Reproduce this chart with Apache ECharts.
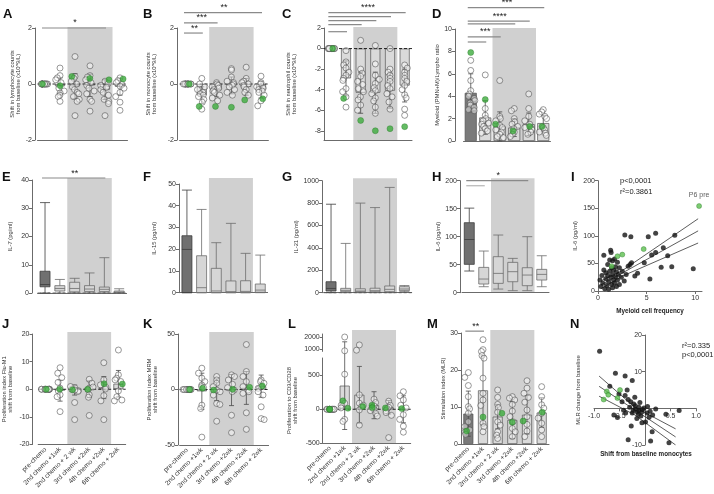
<!DOCTYPE html>
<html><head><meta charset="utf-8">
<script src="https://cdn.jsdelivr.net/npm/echarts@6/dist/echarts.min.js"></script>
<style>html,body{margin:0;padding:0;background:#fff}#c{width:714px;height:494px}</style>
</head><body><div id="c"></div>
<script>
const FONT = '"Liberation Sans", Arial, sans-serif';
const AX = '#6b6b6b', TXT = '#333', BAND = '#d0d0d0', LIGHT = '#dadada', DARK = '#7a7a7a', GREEN = '#3dab3d';

const timepoints = ['pre-chemo','2nd chemo +1wk','2nd chemo + 2 wk','3rd chemo +2wk','4th chemo +2wk','6th chemo + 2wk'];
const shaded = [2, 4];
const zeros = [0,0,0,0,0,0,0,0,0,0,0,0];

// A lymphocytes shift
const lymphPts = [zeros,
  [0.57,0.3,0.22,0.15,0.05,-0.15,-0.25,-0.32,-0.4,-0.45,-0.62],
  [0.98,0.27,0.2,0.1,0.0,-0.1,-0.2,-0.3,-0.35,-0.45,-0.55,-0.62,-1.13],
  [0.65,0.3,0.25,0.15,0.05,-0.05,-0.15,-0.25,-0.35,-0.55,-0.62,-0.97],
  [0.1,0.02,-0.05,-0.12,-0.2,-0.3,-0.4,-0.55,-0.62,-0.7,-1.13],
  [0.22,0.12,0.05,-0.02,-0.08,-0.15,-0.3,-0.45,-0.65,-0.94]];
const lymphGreen = [0,-0.06,0.27,0.2,0.15,0.18];
const lymphMean = [0,-0.08,-0.08,-0.05,-0.2,-0.1];
const lymphSD = [0,0.3,0.45,0.4,0.35,0.3];
// B monocytes shift
const monoPts = [zeros,
  [0.2,0.0,-0.1,-0.2,-0.3,-0.35,-0.4,-0.45,-0.55,-0.65,-0.9],
  [0.05,0.0,-0.05,-0.1,-0.15,-0.2,-0.25,-0.3,-0.4,-0.5,-0.6],
  [0.55,0.5,0.25,0.1,0.05,0.0,-0.05,-0.1,-0.2,-0.3,-0.4],
  [0.6,0.2,0.1,0.05,0.0,-0.05,-0.1,-0.2,-0.3,-0.4],
  [0.28,0.05,0.0,-0.1,-0.15,-0.2,-0.25,-0.3,-0.4,-0.6,-0.78]];
const monoGreen = [0,-0.8,-0.8,-0.83,-0.57,-0.53];
const monoMean = [0,-0.4,-0.2,-0.05,-0.1,-0.2];
const monoSD = [0,0.3,0.25,0.3,0.3,0.3];
// C neutrophils shift
const neutPts = [zeros,
  [-0.2,-1.3,-1.6,-1.9,-2.3,-2.6,-2.9,-3.1,-3.9,-4.2,-4.7,-5.7],
  [0.8,-2.0,-2.4,-2.7,-3.2,-3.5,-3.9,-4.2,-4.7,-5.0,-5.5,-6.0],
  [0.3,-1.5,-2.6,-3.0,-3.4,-3.8,-4.1,-4.4,-4.8,-5.1,-5.7,-6.3],
  [0.0,-2.0,-2.3,-2.6,-2.9,-3.2,-3.6,-3.9,-4.4,-4.7,-5.2,-5.9],
  [-1.6,-1.9,-2.3,-2.6,-2.9,-3.2,-3.6,-4.0,-4.5,-4.8,-5.9,-6.5]];
const neutGreen = [0,-4.85,-7.0,-8.0,-7.8,-7.6];
const neutMean = [0,-2.9,-4.3,-4.3,-4.1,-3.6];
const neutSD = [0,1.7,2.0,2.0,1.7,1.6];
// D myeloid/lympho ratio
const ratioPts = [
  [7.2,6.3,5.4,4.5,4.2,4.0,3.8,3.6,3.4,3.2,3.0,2.8,2.7],
  [5.9,2.9,2.3,2.0,1.8,1.6,1.5,1.3,1.1,0.9,0.7],
  [5.4,2.2,2.0,1.8,1.4,1.2,1.0,0.8,0.6,0.4,0.3],
  [2.9,2.7,2.0,1.7,1.5,1.3,1.1,0.8,0.6,0.4],
  [4.2,2.9,2.2,1.8,1.5,1.2,1.1,1.0,0.8,0.6],
  [2.8,2.6,2.4,2.2,2.0,1.2,1.0,0.8,0.7,0.5]];
const ratioGreen = [7.9,3.7,1.5,0.9,1.3,1.3];
const ratioMean = [4.3,2.1,1.3,1.2,1.5,1.6];
const ratioSD = [1.7,1.5,1.3,0.8,1.0,0.7];
// E-H cytokine boxes [min, Q1, median, Q3, max]
const il7Box = [[0,2.2,3.0,7.7,32],[0,0.7,1.6,2.6,4.8],[0,0.4,1.6,3.8,5.2],[0,0.5,1.4,2.6,7.1],[0,0.5,1.3,2.1,12.5],[0,0.1,0.3,0.7,1.5]];
const il15Box = [[0,0,19.9,26.2,47.2],[0,0,2.3,17,38.3],[0,0,0.8,11.2,23],[0,0,0.5,5.4,31.9],[0,0,0.6,5.5,18.1],[0,0.2,1.2,4,17.3]];
const il21Box = [[0,15,38,98,790],[0,9,21,39,440],[0,8,15,35,800],[0,8,18,40,760],[0,9,30,60,940],[9,18,33,54,64]];
const il6Box = [[38.7,50.6,95,125,151],[10.7,15.5,24.4,45.2,74.4],[6.5,16.7,34.5,64.3,103],[3.6,19.6,37.5,54.2,61.3],[3.6,12.5,31.5,44.6,100],[10.7,22.6,32.7,41.7,66]];
// I IL-6 vs myeloid frequency
const iMyeloid = [2.76,3.38,5.17,5.93,7.9,6.72,5.52,5.93,4.76,3.45,7.17,4.07,3.79,5.34,7.59,9.8,0.2,0.3,0.4,0.5,0.6,0.6,0.7,0.8,0.8,0.9,1.0,1.0,1.1,1.1,1.2,1.2,1.3,1.3,1.35,1.4,1.4,1.5,1.5,1.5,1.6,1.6,1.7,1.7,1.8,1.8,1.9,1.9,2.0,2.0,2.1,2.2,2.2,2.4,2.5,2.7,2.9,3.1,3.3,6.5];
const iIL6 = [101.5,98.5,98.5,104.5,101,78.5,65.3,70,51.4,51.4,64,32,27,21.8,44,40.5,20,8,28,14,65,38,4,22,33,10,48,28,17,3,56,36,74,25,70,12,42,55,30,6,20,38,58,14,26,44,8,35,20,52,30,12,42,25,36,18,30,45,48,43];
const iGreenX = [2.0,2.5,4.7,1.4,10.4];
const iGreenY = [63,66,76,45,154];
const iFitX = [0.3,10.3], iFitY = [11,109];
const iUpX = [0.3,2.5,10.3], iUpY = [18,37,131];
const iLoX = [0.3,2.5,10.3], iLoY = [4,27,87];
// J Flu-M1 shift
const fluPts = [zeros,
  [7.8,5.8,4.2,2.5,0.4,-0.6,-2.0,-2.7,-8.1],
  [0.6,0,-0.5,-0.8,-4.8,-11,1.0,-0.3],
  [3.6,2.2,0.4,-0.2,-2.0,-2.9,-9.5,0.8],
  [9.6,3.4,1.6,0.7,0.1,-2.3,-4.2,-11],
  [14.2,5.2,4.0,3.4,2.8,-0.6,-2.7,-3.9,-4.2]];
const fluGreen = [0,0,-0.2,0,2.0,1.9];
const fluMean = [0,-0.5,-0.3,0,0.6,2.0];
const fluSD = [0,3.8,1.8,3.0,4.0,4.8];
// K MRM shift
const mrmPts = [zeros,
  [19.2,14.7,10.2,7.1,4.1,2.6,1.7,-14.1,-17.1,-42.9],
  [11.7,8.6,5.6,2.6,-0.5,-2,-5,-12.6,-13.5,-28.6],
  [13.2,11.7,8.6,4.7,1.7,-0.5,-2,-23.2,-38.9],
  [40.5,16.2,11.7,7.1,2.6,-0.5,-2,-3.5,-21,-35.9],
  [8.6,7.1,5.6,2.6,1.1,-2,-5,-15.6,-26.2,-27.1]];
const mrmGreen = [0,1.1,-0.5,0.2,2.0,3.2];
const mrmMean = [0,-1.6,0,-0.5,1.4,3.0];
const mrmSD = [0,16.3,10,14,14.8,10];
// L CD3/CD28 shift (broken axis)
const cdPtsLow = [zeros,[520,90,60,20,-150,-180],[215,90,60,35,-10,-235],[150,100,50,20,0,-20,-60,-100],[120,60,30,10,-20,-50,-90,-420],[260,200,140,60,20,-80,-150,-250,-340]];
const cdPtsHigh = [[],[2000,850],[1340,900],[],[],[]];
const cdGreen = [[0,0],[125,15],[40],[60,25],[20],[10]];
const cdMean = [0,350,215,60,30,0];
const cdSD = [0,650,420,200,100,200];
// M MLR stimulation index
const mlrPts = [
  [19.3,18,15.8,12.8,10.1,9.5,8.3,6,4.7,3.8,3.3,2.6],
  [28.2,25.5,25.0,23.9,23.2,17.8,13.7,11.9,10.4,5.6,4.7,3.3],
  [14.6,12.6,10.7,9.8,8.6,6,5.1,3.3,2.4,1.5],
  [12.8,12.4,11.9,10.7,8.9,7.4,6,4.2,3.3,2],
  [17.1,15.1,13.7,12.6,11.3,9.2,7.4,5.3,3.5,2],
  [15.5,12.8,10.6,9.7,8.3,7,5.6,3.8,2]];
const mlrGreen = [3.5,7.3,8.3,5.9,6.2,8.6];
const mlrMean = [8.2,14.5,7.4,6.5,7.9,8.5];
const mlrSD = [6.1,9.3,3.3,5.0,5.2,4.0];
// N MLR change vs monocyte shift
const nMono = [-0.89,-0.58,-0.39,-0.25,-0.69,-0.51,-0.39,-0.33,-0.28,-0.22,-0.19,-0.12,-0.19,-0.12,-0.06,-0.02,0.04,-0.25,-0.38,-0.61,-0.54,-0.27,-0.06,0.01,0.14,-0.33,0.11,0.47,0.67,0.41,0.21,0.1,-0.08,-0.15,-0.3,-0.45,-0.35,-0.2,-0.1,0.05,-0.16,0.08,-0.42,-0.05,0.15,-0.23,-0.13];
const nMLR = [15.6,9.6,8.8,7.6,6.0,3.9,3.5,2.4,1.8,1.2,0.7,0.3,-0.2,-0.6,-0.9,0.1,-1.3,-1.3,-1.3,-1.8,-2.5,-4.8,-3.9,-3.7,-6.4,-8.6,-8.9,-9.4,-0.6,-1.6,-0.2,-0.8,-2.1,-1.0,0.3,1.8,5.0,3.0,1.6,0.5,-2.8,-2.4,-0.5,-0.3,-1.8,-0.6,-1.6];
const nGreenX = [-0.75,-0.72,-0.81,-0.49,-0.54];
const nGreenY = [4.6,3.7,2.4,5.0,2.8];
const nFitX = [-0.9,0.6], nFitY = [6,-7.8];
const nUpX = [-0.9,-0.2,0.6], nUpY = [8.8,0.3,-5.6];
const nLoX = [-0.9,-0.2,0.6], nLoY = [3.3,-1.8,-10.0];

// significance bars: [fromCat, toCat, yValue, label, colour]
const sigA = [[0,4,2.0,'*']];
const sigB = [[0,5,2.55,'**'],[0,2,2.18,'***'],[0,1,1.82,'**']];
const sigC = [[0,5,3.49,'****'],[0,4,3.1,''],[0,3,2.71,''],[0,2,2.32,''],[0,1,1.64,'']];
const sigD = [[0,5,11.9,'***'],[0,4,10.7,'****'],[0,3,10.45,''],[0,2,9.3,'***'],[0,1,8.84,'']];
const sigE = [[0,4,40.7,'**']];
const sigH = [[0,4,200,'*'],[0,1,191,'','#b5b5b5']];
const sigM = [[0,1,30.5,'**']];

const option = {animation:false, textStyle:{fontFamily:FONT}, grid:[], xAxis:[], yAxis:[], series:[], graphic:[]};

function flat(arr){ const out=[]; arr.forEach((vs,i)=>vs.forEach(v=>out.push([i,v]))); return out; }
function pairs(xs, ys){ return xs.map((x,i)=>[x, ys[i]]); }
const plain = v => String(v);

function catAxis(gi, showLabels, show){
  return {type:'category', gridIndex:gi, data:timepoints, boundaryGap:true, show: show!==false,
    axisLine:{onZero:false, lineStyle:{color:AX, width:1}},
    axisTick:{alignWithLabel:true, length:3, lineStyle:{color:AX}},
    axisLabel: showLabels ? {interval:0, rotate:45, fontSize:6.6, color:TXT, margin:4, fontFamily:FONT} : {show:false},
    splitLine:{show:false}, jitter:11, jitterOverlap:false, jitterMargin:0};
}
function valAxis(gi, p){
  return {type:'value', gridIndex:gi, min:p.min, max:p.max, offset:p.offset||0,
    splitLine:{show:false},
    axisLine:{show:true, onZero:false, lineStyle:{color:AX}},
    axisTick:{show:true, length:3, lineStyle:{color:AX}, customValues:p.ticks},
    axisLabel:{fontSize:7, color:TXT, margin:3, fontFamily:FONT, customValues:p.ticks, formatter:plain},
    name:p.name, nameLocation:'middle', nameRotate:90, nameGap:p.nameGap,
    nameTextStyle:{fontSize:5.8, color:TXT, fontFamily:FONT, lineHeight:6.5}};
}
function bandSeries(xi, yi, extraTop){
  return {type:'custom', xAxisIndex:xi, yAxisIndex:yi, z:0, silent:true, data:[[shaded[0], shaded[1]]],
    renderItem(params, api){
      const cs = params.coordSys; const bw = api.size([1,0])[0];
      const x0 = api.coord([api.value(0), 0])[0] - bw/2;
      const x1 = api.coord([api.value(1), 0])[0] + bw/2;
      return {type:'rect', shape:{x:x0, y:cs.y-extraTop, width:x1-x0, height:cs.height+extraTop}, style:{fill:BAND}};
    }};
}
function zeroLine(xi, yi, color, dash){
  return {type:'custom', xAxisIndex:xi, yAxisIndex:yi, z:4, silent:true, data:[[0,0]],
    renderItem(params, api){ const cs = params.coordSys; const y = api.coord([0,0])[1];
      return {type:'line', shape:{x1:cs.x, y1:y, x2:cs.x+cs.width, y2:y}, style:{stroke:color, lineWidth:0.9, lineDash:dash}}; }};
}
function errSeries(xi, yi, mean, sd){
  return {type:'custom', xAxisIndex:xi, yAxisIndex:yi, z:3, silent:true,
    data: mean.map((m,i)=>[i, m-sd[i], m+sd[i]]),
    renderItem(params, api){
      if (api.value(2) === api.value(1)) return;
      const lo = api.coord([api.value(0), api.value(1)]), hi = api.coord([api.value(0), api.value(2)]);
      const w = 2.5, st = {stroke:'#4a4a4a', lineWidth:0.8};
      return {type:'group', children:[
        {type:'line', shape:{x1:lo[0],y1:lo[1],x2:hi[0],y2:hi[1]}, style:st},
        {type:'line', shape:{x1:lo[0]-w,y1:lo[1],x2:lo[0]+w,y2:lo[1]}, style:st},
        {type:'line', shape:{x1:hi[0]-w,y1:hi[1],x2:hi[0]+w,y2:hi[1]}, style:st}]};
    }};
}
function sigSeries(xi, yi, sigs){
  return {type:'custom', xAxisIndex:xi, yAxisIndex:yi, z:6, silent:true,
    data: sigs.map(s=>[s[0], s[2]]),
    renderItem(params, api){
      const s = sigs[params.dataIndex];
      const a = api.coord([s[0], s[2]]), b = api.coord([s[1], s[2]]);
      const ch = [{type:'line', shape:{x1:a[0]-3, y1:a[1], x2:b[0]+1, y2:b[1]}, style:{stroke:s[4]||'#8a8a8a', lineWidth:1.2}}];
      if (s[3]) ch.push({type:'text', style:{text:s[3], x:(a[0]+b[0])/2, y:a[1]-0.5, align:'center', verticalAlign:'bottom', fontSize:9, fill:'#222', fontFamily:FONT}});
      return {type:'group', children:ch};
    }};
}
function openPts(xi, yi, data, size){
  return {type:'scatter', xAxisIndex:xi, yAxisIndex:yi, z:4, data, symbolSize:size||6,
    itemStyle:{color:'rgba(255,255,255,0.55)', borderColor:'#4a4a4a', borderWidth:0.7}};
}
function greenPts(xi, yi, data, size){
  return {type:'scatter', xAxisIndex:xi, yAxisIndex:yi, z:5, data, symbolSize:size||6,
    itemStyle:{color:GREEN, borderColor:'#2b7a2b', borderWidth:0.5}};
}
function barSeries(xi, yi, mean, firstDark, width){
  return {type:'bar', xAxisIndex:xi, yAxisIndex:yi, z:2, barWidth:width||10,
    data: mean.map((m,i)=>({value:m, itemStyle:{color:(firstDark&&i===0)?DARK:LIGHT}})),
    itemStyle:{borderColor:'#555', borderWidth:0.7}};
}

function panel(p){
  const gi = option.grid.length;
  option.grid.push({left:p.left, top:p.top, width:p.width, height:p.height});
  option.xAxis.push(catAxis(gi, p.xLabels));
  option.yAxis.push(valAxis(gi, p));
  const S = option.series;
  if (p.band !== false) S.push(bandSeries(gi, gi, p.bandTop||1));
  if (p.mean) { S.push(barSeries(gi, gi, p.mean, p.firstDark, p.barWidth)); S.push(errSeries(gi, gi, p.mean, p.sd)); }
  if (p.box) S.push({type:'boxplot', xAxisIndex:gi, yAxisIndex:gi, z:3, boxWidth:[10,10],
    data: p.box.map((b,i)=>({value:b, itemStyle: i===0 ? {color:'#707070', borderColor:'#3c3c3c'} : {color:'#d6d6d6', borderColor:'#6c6c6c'}})),
    itemStyle:{borderWidth:0.8}});
  if (p.zero) S.push(zeroLine(gi, gi, p.zero, [3,2]));
  if (p.pts) S.push(openPts(gi, gi, flat(p.pts)));
  if (p.green) S.push(greenPts(gi, gi, p.green.map((v,i)=>[i,v])));
  if (p.sig) S.push(sigSeries(gi, gi, p.sig));
  return gi;
}

// Row 1
panel({left:37.5, top:28, width:90, height:112, offset:2.5, min:-2, max:2, ticks:[-2,0,2], nameGap:10,
  name:'Shift in lymphocyte counts\nfrom baseline (x10^9/L)', pts:lymphPts, green:lymphGreen, mean:lymphMean, sd:lymphSD, zero:'#111', sig:sigA});
panel({left:179.6, top:28, width:88.8, height:112, offset:2.6, min:-2, max:2, ticks:[-2,0,2], nameGap:19,
  name:'Shift in monocyte counts\nfrom baseline (x10^9/L)', pts:monoPts, green:monoGreen, mean:monoMean, sd:monoSD, zero:'#111', sig:sigB});
panel({left:324, top:28, width:88, height:112, offset:0, min:-8.9, max:2, ticks:[-8,-6,-4,-2,0,2], nameGap:26,
  name:'Shift in neutrophil counts\nfrom baseline (x10^9/L)', pts:neutPts, green:neutGreen, mean:neutMean, sd:neutSD, zero:'#111', sig:sigC});
panel({left:463.5, top:29, width:87, height:112, offset:8.5, min:0, max:10, ticks:[0,2,4,6,8,10], nameGap:12, barWidth:12, firstDark:true,
  name:'Myeloid (PMN+M)/Lympho ratio', pts:ratioPts, green:ratioGreen, mean:ratioMean, sd:ratioSD, sig:sigD});
// Row 2
panel({left:37.6, top:180, width:89, height:113, offset:5.6, min:0, max:40, ticks:[0,10,20,30,40], nameGap:18,
  name:'IL-7 (pg/ml)', box:il7Box, zero:'#555', sig:sigE, bandTop:2});
panel({left:179.6, top:184, width:88, height:108.7, offset:0.6, min:0, max:50, ticks:[0,10,20,30,40,50], nameGap:21,
  name:'IL-15 (pg/ml)', box:il15Box, bandTop:6});
panel({left:323.7, top:180.7, width:88, height:112, offset:1.7, min:0, max:1000, ticks:[0,200,400,600,800,1000], nameGap:19,
  name:'IL-21 (pg/ml)', box:il21Box, zero:'#555', bandTop:2.5});
panel({left:462, top:180.7, width:87, height:112, offset:2, min:0, max:200, ticks:[0,50,100,150,200], nameGap:11,
  name:'IL-6 (pg/ml)', box:il6Box, sig:sigH, bandTop:2.5});
// Row 3
panel({left:37.7, top:334, width:88, height:110.5, offset:5.7, min:-20, max:20, ticks:[-20,-10,0,10,20], nameGap:18.5, xLabels:true,
  name:'Proliferation index Flu-M1\nshift from baseline', pts:fluPts, green:fluGreen, mean:fluMean, sd:fluSD, zero:'#111', bandTop:2});
panel({left:179.6, top:334, width:89, height:111, offset:1.6, min:-50, max:50, ticks:[-50,0,50], nameGap:19, xLabels:true,
  name:'Proliferation index MRM\nshift from baseline', pts:mrmPts, green:mrmGreen, mean:mrmMean, sd:mrmSD, zero:'#111', bandTop:2});
// L lower part
const gL = panel({left:322.7, top:358, width:88, height:85, offset:0, min:-500, max:760, ticks:[-500,0,500], nameGap:24, xLabels:true,
  name:'Proliferation to CD3/CD28\nshift from baseline', pts:cdPtsLow, mean:cdMean, sd:cdSD, zero:'#111', bandTop:28});
option.series.push(greenPts(gL, gL, flat(cdGreen)));
// L upper part
{
  const gi = option.grid.length;
  option.grid.push({left:322.7, top:334, width:88, height:17.4});
  option.xAxis.push(catAxis(gi, false, false));
  option.yAxis.push(valAxis(gi, {min:800, max:2250, ticks:[1000,2000]}));
  option.series.push(openPts(gi, gi, flat(cdPtsHigh)));
}
panel({left:461, top:333, width:88, height:111, offset:0, min:0, max:30, ticks:[0,10,20,30], nameGap:13, xLabels:true, firstDark:true,
  name:'Stimulation index (MLR)', pts:mlrPts, green:mlrGreen, mean:mlrMean, sd:mlrSD, sig:sigM, bandTop:3});

// I scatter
{
  const gi = option.grid.length;
  option.grid.push({left:598, top:180.7, width:104, height:110.3});
  option.xAxis.push({type:'value', gridIndex:gi, min:0, max:10.7, splitLine:{show:false},
    axisLine:{onZero:false, lineStyle:{color:AX}}, axisTick:{length:3, customValues:[0,5,10], lineStyle:{color:AX}},
    axisLabel:{fontSize:7, color:TXT, margin:4, customValues:[0,5,10]},
    name:'Myeloid cell frequency', nameLocation:'middle', nameGap:17, nameTextStyle:{fontSize:6.3, color:'#222', fontWeight:'bold'}});
  option.yAxis.push(valAxis(gi, {min:0, max:200, ticks:[0,50,100,150,200], nameGap:19, name:'IL-6 (pg/ml)'}));
  const ln = (xs, ys) => ({type:'line', xAxisIndex:gi, yAxisIndex:gi, z:3, symbol:'none', silent:true, data:pairs(xs, ys), lineStyle:{color:'#333', width:0.8}});
  option.series.push(ln(iFitX, iFitY), ln(iUpX, iUpY), ln(iLoX, iLoY));
  option.series.push({type:'scatter', xAxisIndex:gi, yAxisIndex:gi, z:4, symbolSize:5, data:pairs(iMyeloid, iIL6), itemStyle:{color:'#141414'}});
  const gd = pairs(iGreenX, iGreenY).map((d,i)=> i===4 ? {value:d, label:{show:true, formatter:'P6 pre', position:'top', distance:5, fontSize:7, color:TXT}} : d);
  option.series.push({type:'scatter', xAxisIndex:gi, yAxisIndex:gi, z:5, symbolSize:5, data:gd, itemStyle:{color:'#5cbf4f', borderColor:'#2d7a2d', borderWidth:0.5}});
}
// N scatter: axes cross at the origin
{
  const gi = option.grid.length;
  const nx = [-1, 1], ny = [-10, 20], nw = 102, nh = 110;
  option.grid.push({left:594, top:335, width:nw, height:nh});
  option.xAxis.push({type:'value', gridIndex:gi, min:nx[0], max:nx[1], splitLine:{show:false},
    offset: -nh * (0 - ny[0]) / (ny[1] - ny[0]),
    axisLine:{onZero:false, lineStyle:{color:AX}}, axisTick:{length:3, customValues:[-1,-0.5,0.5,1], lineStyle:{color:AX}},
    axisLabel:{fontSize:7, color:TXT, margin:4, customValues:[-1,-0.5,0.5,1], formatter:v=>v.toFixed(1)}});
  option.yAxis.push({type:'value', gridIndex:gi, min:ny[0], max:ny[1], splitLine:{show:false},
    offset: -nw * (0 - nx[0]) / (nx[1] - nx[0]),
    axisLine:{onZero:false, lineStyle:{color:AX}}, axisTick:{length:3, customValues:[-10,10,20], lineStyle:{color:AX}},
    axisLabel:{fontSize:7, color:TXT, margin:3, customValues:[-10,10,20]},
    name:'MLR change from baseline', nameLocation:'middle', nameRotate:90, nameGap:64,
    nameTextStyle:{fontSize:5.8, color:TXT, fontFamily:FONT}});
  const ln = (xs, ys) => ({type:'line', xAxisIndex:gi, yAxisIndex:gi, z:3, symbol:'none', silent:true, data:pairs(xs, ys), lineStyle:{color:'#333', width:0.8}});
  option.series.push(ln(nFitX, nFitY), ln(nUpX, nUpY), ln(nLoX, nLoY));
  option.series.push({type:'scatter', xAxisIndex:gi, yAxisIndex:gi, z:4, symbolSize:5, data:pairs(nMono, nMLR), itemStyle:{color:'#141414'}});
  option.series.push({type:'scatter', xAxisIndex:gi, yAxisIndex:gi, z:5, symbolSize:5, data:pairs(nGreenX, nGreenY), itemStyle:{color:'#5cbf4f', borderColor:'#2d7a2d', borderWidth:0.5}});
}

// panel letters and annotations
const letters = [['A',3,8],['B',143,8],['C',282,8],['D',432,8],['E',2,171],['F',143,171],['G',282,171],['H',432,171],['I',571,171],['J',2,318],['K',143,318],['L',288,318],['M',427,318],['N',570,318]];
letters.forEach(([t,x,y])=>option.graphic.push({type:'text', left:x, top:y, style:{text:t, font:'bold 13px '+FONT, fill:'#111'}}));
const notes = [['p<0,0001',620,177],['r\u00b2=0.3861',620,188],['r\u00b2=0.335',682,342],['p<0,0001',682,351]];
notes.forEach(([t,x,y])=>option.graphic.push({type:'text', left:x, top:y, style:{text:t, font:'7.5px '+FONT, fill:'#222'}}));
option.graphic.push({type:'text', x:646, y:454, style:{text:'Shift from baseline monocytes', font:'bold 6.3px '+FONT, fill:'#222', align:'center', verticalAlign:'middle'}});

const chart = echarts.init(document.getElementById('c'), null, {renderer:'canvas'});
chart.setOption(option);
</script></body></html>
